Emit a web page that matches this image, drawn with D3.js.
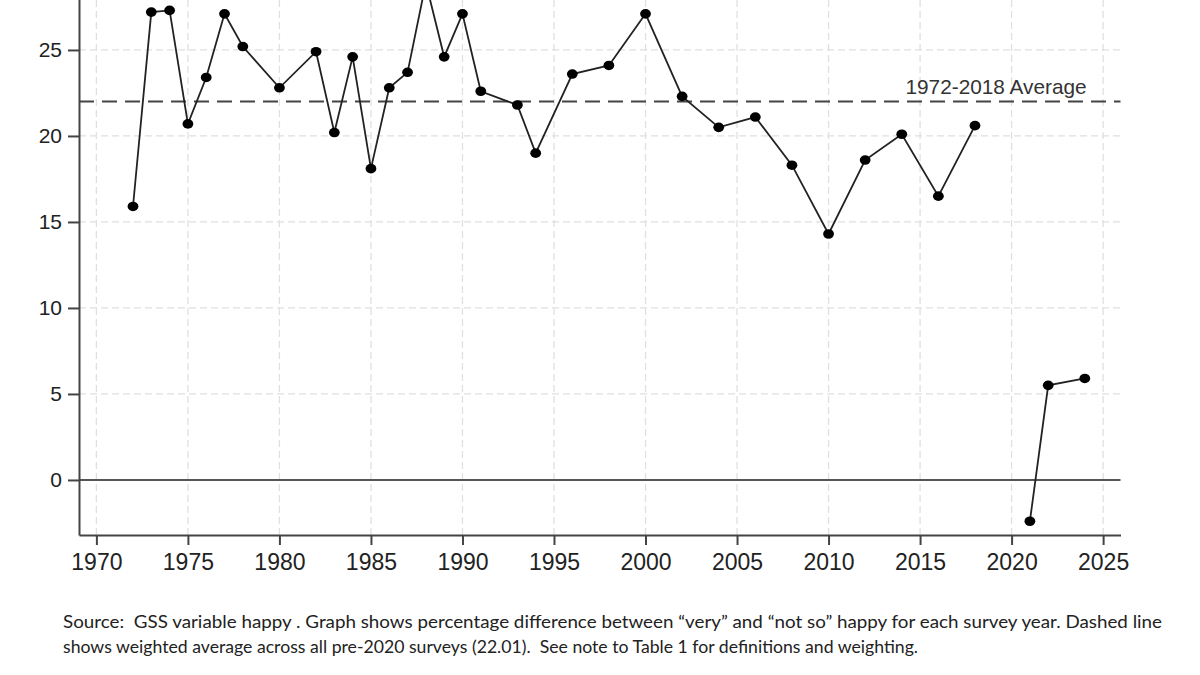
<!DOCTYPE html>
<html>
<head>
<meta charset="utf-8">
<script src="https://cdn.jsdelivr.net/npm/d3@7"></script>
<style>
  body { margin: 0; background: #fff; }
  svg { display: block; }
  .cap { white-space: pre; }
</style>
</head>
<body>
<svg id="chart" width="1200" height="675"></svg>
<script>
// survey years and "very" minus "not so" happy, percentage points
const yearsPre = [1972, 1973, 1974, 1975, 1976, 1977, 1978, 1980, 1982, 1983, 1984, 1985, 1986, 1987, 1988, 1989, 1990, 1991, 1993, 1994, 1996, 1998, 2000, 2002, 2004, 2006, 2008, 2010, 2012, 2014, 2016, 2018];
const diffPre = [15.9, 27.2, 27.3, 20.7, 23.4, 27.1, 25.2, 22.8, 24.9, 20.2, 24.6, 18.1, 22.8, 23.7, 28.9, 24.6, 27.1, 22.6, 21.8, 19.0, 23.6, 24.1, 27.1, 22.3, 20.5, 21.1, 18.3, 14.3, 18.6, 20.1, 16.5, 20.6];
const yearsPost = [2021, 2022, 2024];
const diffPost = [-2.4, 5.5, 5.9];

const average = 22.01;
const averageLabel = "1972-2018 Average";
const xTicks = [1970, 1975, 1980, 1985, 1990, 1995, 2000, 2005, 2010, 2015, 2020, 2025];
const yTicks = [0, 5, 10, 15, 20, 25];
const gridY = [5, 10, 15, 20, 25];
const caption = [
  "Source:  GSS variable happy . Graph shows percentage difference between \u201cvery\u201d and \u201cnot so\u201d happy for each survey year. Dashed line",
  "shows weighted average across all pre-2020 surveys (22.01).  See note to Table 1 for definitions and weighting."
];

const sans = "'Liberation Sans', Arial, sans-serif";
const svg = d3.select("#chart");
svg.append("rect").attr("width", 1200).attr("height", 675).attr("fill", "#fff");

// plot top sits above the picture edge, as in the original crop
const x = d3.scaleLinear().domain([1969.05, 2025.95]).range([79, 1120.5]);
const y = d3.scaleLinear().domain([-3.2, 30]).range([535, 535 - 33.2 * 17.2]);

const series = [
  yearsPre.map((yr, i) => ({ year: yr, v: diffPre[i] })),
  yearsPost.map((yr, i) => ({ year: yr, v: diffPost[i] }))
];

// grid
const grid = svg.append("g").attr("stroke", "#e0e0e0").attr("stroke-width", 1.3).attr("stroke-dasharray", "7,4");
grid.selectAll("line.v").data(xTicks).join("line")
  .attr("class", "v")
  .attr("x1", d => x(d)).attr("x2", d => x(d))
  .attr("y1", y(-3.2)).attr("y2", y(30));
grid.selectAll("line.h").data(gridY).join("line")
  .attr("class", "h")
  .attr("x1", x(1969.05)).attr("x2", x(2025.95))
  .attr("y1", d => y(d)).attr("y2", d => y(d));

// zero line
svg.append("line")
  .attr("x1", x(1969.05)).attr("x2", x(2025.95))
  .attr("y1", y(0)).attr("y2", y(0))
  .attr("stroke", "#555").attr("stroke-width", 2);

// average line
svg.append("line")
  .attr("x1", x(1969.05)).attr("x2", x(2025.95))
  .attr("y1", y(average)).attr("y2", y(average))
  .attr("stroke", "#444").attr("stroke-width", 2)
  .attr("stroke-dasharray", "15,8");

svg.append("text")
  .attr("x", x(2024.1)).attr("y", y(average) - 7)
  .attr("text-anchor", "end")
  .attr("font-family", sans)
  .attr("font-size", 20.8)
  .attr("fill", "#333")
  .text(averageLabel);

// axes
const xAxis = svg.append("g")
  .attr("transform", `translate(0,${y(-3.2)})`)
  .call(d3.axisBottom(x).tickValues(xTicks).tickFormat(d3.format("d")).tickSize(10).tickSizeOuter(0).tickPadding(9));
const yAxis = svg.append("g")
  .attr("transform", `translate(${x(1969.05)},0)`)
  .call(d3.axisLeft(y).tickValues(yTicks).tickSize(11).tickSizeOuter(0).tickPadding(6));

[xAxis, yAxis].forEach(g => {
  g.attr("font-family", sans);
  g.select(".domain").attr("stroke", "#444").attr("stroke-width", 2);
  g.selectAll(".tick line").attr("stroke", "#444").attr("stroke-width", 2);
  g.selectAll(".tick text").attr("fill", "#222");
});
xAxis.attr("font-size", 23);
yAxis.attr("font-size", 21);

// data
const line = d3.line().x(d => x(d.year)).y(d => y(d.v));
svg.selectAll("path.series").data(series).join("path")
  .attr("class", "series")
  .attr("d", line)
  .attr("fill", "none")
  .attr("stroke", "#222")
  .attr("stroke-width", 1.8);

svg.selectAll("ellipse.pt").data(series.flat()).join("ellipse")
  .attr("class", "pt")
  .attr("cx", d => x(d.year)).attr("cy", d => y(d.v))
  .attr("rx", 5.4).attr("ry", 4.8)
  .attr("fill", "#000");

// caption
const widths = [1099, 855];
svg.selectAll("text.cap").data(caption).join("text")
  .attr("class", "cap")
  .attr("x", 63)
  .attr("y", (d, i) => 628 + i * 25)
  .attr("font-family", "Lato, 'Open Sans', sans-serif")
  .attr("font-size", 16.5)
  .attr("fill", "#222")
  .attr("textLength", (d, i) => widths[i])
  .attr("lengthAdjust", "spacingAndGlyphs")
  .text(d => d);
</script>
</body>
</html>
